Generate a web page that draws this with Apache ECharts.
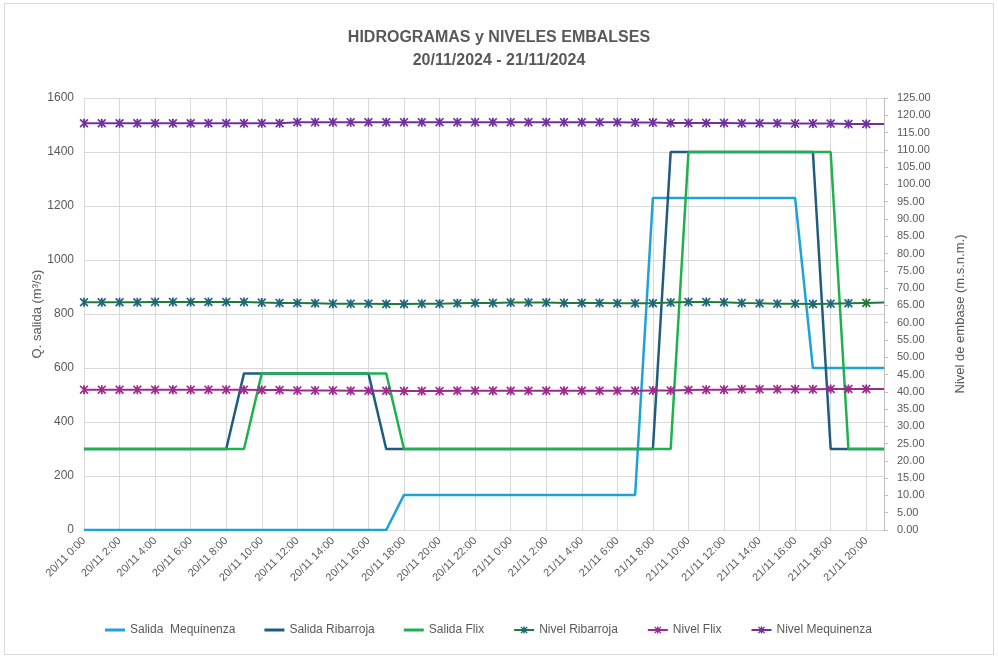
<!DOCTYPE html>
<html>
<head>
<meta charset="utf-8">
<script src="https://cdn.jsdelivr.net/npm/echarts@6/dist/echarts.min.js"></script>
<style>html,body{margin:0;padding:0;background:#fff}#c{width:998px;height:659px}</style>
</head>
<body>
<div id="c"></div>
<script>
// Categories: hourly from 20/11 0:00 to 21/11 21:00
const categories = [];
for (let d of ['20/11', '21/11']) {
  for (let h = 0; h < 24; h++) {
    if (d === '21/11' && h > 21) break;
    categories.push(d + ' ' + h + ':00');
  }
}

const salidaMequinenza = [
  0,0,0,0,0,0,0,0,0,0,0,0,0,0,0,0,0,0,
  130,130,130,130,130,130,130,130,130,130,130,130,130,130,
  1230,1230,1230,1230,1230,1230,1230,1230,1230,
  600,600,600,600,600
];
const salidaRibarroja = [
  300,300,300,300,300,300,300,300,300,
  580,580,580,580,580,580,580,580,
  300,300,300,300,300,300,300,300,300,300,300,300,300,300,300,300,
  1400,1400,1400,1400,1400,1400,1400,1400,1400,
  300,300,300,300
];
const salidaFlix = [
  300,300,300,300,300,300,300,300,300,300,
  580,580,580,580,580,580,580,580,
  300,300,300,300,300,300,300,300,300,300,300,300,300,300,300,300,
  1400,1400,1400,1400,1400,1400,1400,1400,1400,
  300,300,300
];
const nivelRibarroja = [
  65.9,65.9,65.9,65.9,66.0,66.0,66.0,66.0,66.0,66.0,
  65.8,65.7,65.7,65.6,65.5,65.5,65.5,65.4,
  65.4,65.5,65.5,65.6,65.7,65.7,65.8,65.8,
  65.8,65.7,65.7,65.7,65.6,65.6,65.6,
  65.8,66.0,66.0,65.9,
  65.7,65.6,65.5,65.5,65.4,65.5,65.6,65.7,65.8
];
const nivelFlix = [
  40.6,40.6,40.6,40.6,40.6,40.6,40.6,40.6,40.6,40.6,
  40.5,40.5,40.4,40.4,40.4,40.3,40.3,40.3,
  40.2,40.2,40.2,40.3,40.3,40.3,40.3,40.3,
  40.3,40.3,40.3,40.3,40.3,40.3,40.4,40.4,
  40.5,40.6,40.6,40.7,40.7,40.7,40.7,40.7,40.8,40.8,40.8,40.8
];
const nivelMequinenza = [
  117.7,117.7,117.7,117.7,117.7,117.7,117.7,117.7,117.7,117.7,117.7,117.7,
  118.0,118.0,118.0,118.0,118.0,118.0,118.0,118.0,118.0,118.0,
  118.0,118.0,118.0,118.0,118.0,118.0,118.0,118.0,118.0,
  117.9,117.9,117.8,117.8,117.8,117.8,117.7,117.7,117.7,117.6,117.6,117.6,117.5,117.5,117.5
];

const starPath = 'path://M0,1.3L1.3,0L5,3.7L8.7,0L10,1.3L6.3,5L10,8.7L8.7,10L5,6.3L1.3,10L0,8.7L3.7,5Z M4,0L6,0L6,10L4,10Z';
const linePath = 'path://M0,0L20,0L20,3L0,3Z';
const txt = '#595959';
const font = 'Liberation Sans';

function lastNoSymbol(arr, lastMarkColor) {
  return arr.map((v, i) => {
    if (i === arr.length - 1) return { value: v, symbol: 'none' };
    if (lastMarkColor && i === arr.length - 2) return { value: v, itemStyle: { color: lastMarkColor } };
    return v;
  });
}

const chart = echarts.init(document.getElementById('c'));
chart.setOption({
  backgroundColor: '#fff',
  animation: false,
  graphic: [{
    type: 'rect', shape: { x: 4.5, y: 3.5, width: 989, height: 651 },
    style: { fill: 'none', stroke: '#d9d9d9', lineWidth: 1 }, silent: true
  }],
  title: {
    text: 'HIDROGRAMAS y NIVELES EMBALSES\n20/11/2024 - 21/11/2024',
    left: 'center', top: 21,
    textStyle: { fontFamily: font, fontSize: 16, fontWeight: 'bold', color: txt, lineHeight: 23 }
  },
  legend: {
    bottom: 18, left: 100, itemWidth: 20, itemHeight: 9, itemGap: 29,
    textStyle: { fontFamily: font, fontSize: 12, color: txt },
    data: [
      { name: 'Salida  Mequinenza', icon: linePath },
      { name: 'Salida Ribarroja', icon: linePath },
      { name: 'Salida Flix', icon: linePath },
      'Nivel Ribarroja', 'Nivel Flix', 'Nivel Mequinenza'
    ]
  },
  grid: { left: 84, right: 114, top: 98, bottom: 129 },
  xAxis: {
    type: 'category', data: categories, boundaryGap: false,
    axisLine: { lineStyle: { color: '#d9d9d9' } },
    axisTick: { show: false },
    axisLabel: { interval: 1, rotate: 45, fontFamily: font, fontSize: 11, color: txt, margin: 9 },
    splitLine: { show: true, interval: 1, lineStyle: { color: '#d9d9d9' } }
  },
  yAxis: [{
    type: 'value', min: 0, max: 1600, interval: 200,
    name: 'Q. salida (m³/s)', nameLocation: 'middle', nameGap: 40, nameMoveOverlap: false,
    nameTextStyle: { fontFamily: font, fontSize: 13, color: txt },
    axisLine: { show: false }, axisTick: { show: false },
    axisLabel: { fontFamily: font, fontSize: 12, color: txt, margin: 10, formatter: v => String(v) },
    splitLine: { lineStyle: { color: '#d9d9d9' } }
  }, {
    type: 'value', min: 0, max: 125, interval: 5, position: 'right',
    name: 'Nivel de embase (m.s.n.m.)', nameLocation: 'middle', nameGap: 70, nameRotate: 90, nameMoveOverlap: false,
    nameTextStyle: { fontFamily: font, fontSize: 13, color: txt },
    axisLine: { show: true, lineStyle: { color: '#bfbfbf' } },
    axisTick: { show: true, length: 4, lineStyle: { color: '#bfbfbf' } },
    axisLabel: { fontFamily: font, fontSize: 11, color: txt, margin: 13, formatter: v => v.toFixed(2) },
    splitLine: { show: false }
  }],
  series: [{
    name: 'Salida  Mequinenza', type: 'line', data: salidaMequinenza, symbol: 'none',
    lineStyle: { color: '#1ea2d8', width: 2.5 }, itemStyle: { color: '#1ea2d8' }
  }, {
    name: 'Salida Ribarroja', type: 'line', data: salidaRibarroja, symbol: 'none',
    lineStyle: { color: '#1f5c80', width: 2.5 }, itemStyle: { color: '#1f5c80' }
  }, {
    name: 'Salida Flix', type: 'line', data: salidaFlix, symbol: 'none',
    lineStyle: { color: '#1fb04f', width: 2.5 }, itemStyle: { color: '#1fb04f' }
  }, {
    name: 'Nivel Ribarroja', type: 'line', yAxisIndex: 1, data: lastNoSymbol(nivelRibarroja, '#247a35'),
    symbol: starPath, symbolSize: 9, showAllSymbol: true,
    lineStyle: { color: '#247a35', width: 2 }, itemStyle: { color: '#1e6383' }
  }, {
    name: 'Nivel Flix', type: 'line', yAxisIndex: 1, data: lastNoSymbol(nivelFlix),
    symbol: starPath, symbolSize: 9, showAllSymbol: true,
    lineStyle: { color: '#9e2a8e', width: 2 }, itemStyle: { color: '#9e2a8e' }
  }, {
    name: 'Nivel Mequinenza', type: 'line', yAxisIndex: 1, data: lastNoSymbol(nivelMequinenza),
    symbol: starPath, symbolSize: 9, showAllSymbol: true,
    lineStyle: { color: '#7030a0', width: 2 }, itemStyle: { color: '#7030a0' }
  }]
});
</script>
</body>
</html>
